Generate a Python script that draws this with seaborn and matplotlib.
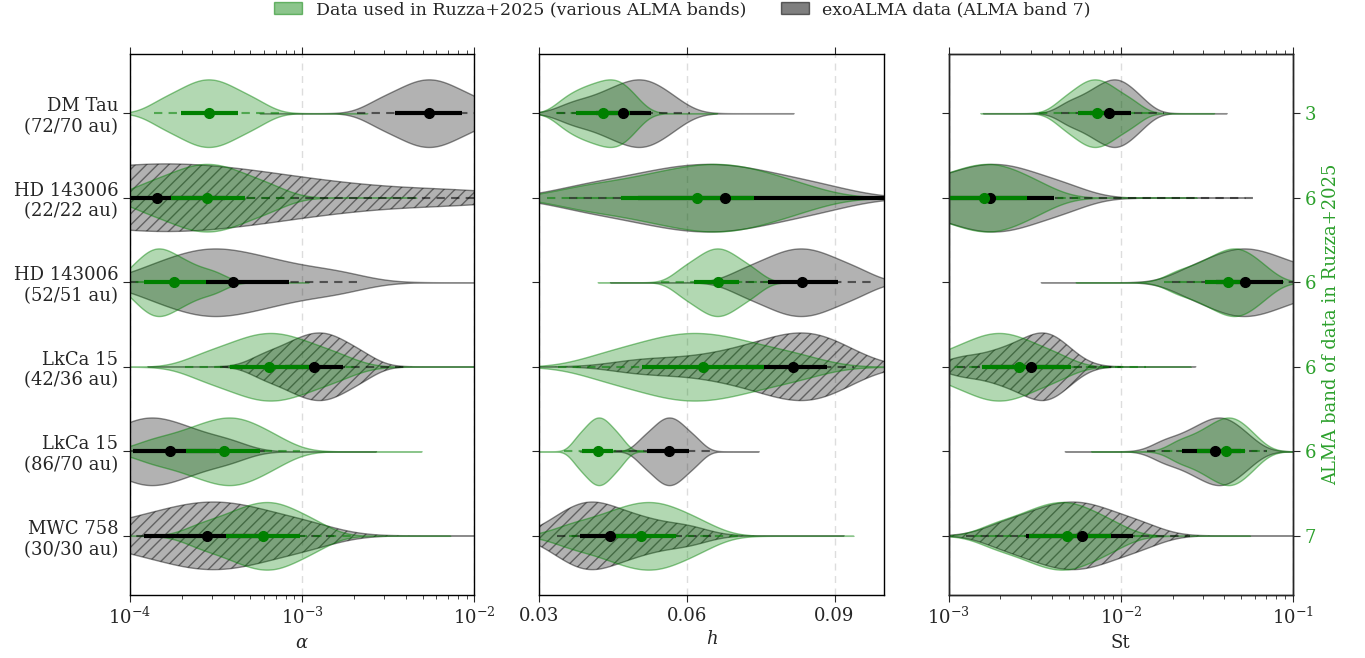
import numpy as np
import pandas as pd
import seaborn as sns
import matplotlib.pyplot as plt
from matplotlib.colors import to_rgba
from matplotlib.patches import Patch

# ---------------- data ----------------
disks = ["DM Tau\n(72/70 au)", "HD 143006\n(22/22 au)", "HD 143006\n(52/51 au)",
         "LkCa 15\n(42/36 au)", "LkCa 15\n(86/70 au)", "MWC 758\n(30/30 au)"]
alma_bands = ["3", "6", "6", "6", "6", "7"]

# posterior samples, log10(alpha)
alpha_ruzza = [
    [-3.817, -3.702, -3.631, -3.572, -3.516, -3.457, -3.386, -3.271],
    [-3.914, -3.761, -3.668, -3.590, -3.516, -3.438, -3.345, -3.193],
    [-3.974, -3.903, -3.859, -3.822, -3.775, -3.712, -3.637, -3.514],
    [-3.569, -3.407, -3.307, -3.224, -3.146, -3.063, -2.963, -2.802],
    [-3.870, -3.696, -3.588, -3.498, -3.425, -3.361, -3.283, -3.157],
    [-3.585, -3.432, -3.339, -3.261, -3.193, -3.129, -3.051, -2.925],
]
alpha_exo = [
    [-2.556, -2.434, -2.358, -2.295, -2.235, -2.172, -2.096, -1.974],
    [-4.87, -4.50, -4.27, -4.10, -3.93, -3.79, -3.64, -3.48, -3.30, -3.07, -2.72, -2.10],
    [-3.880, -3.698, -3.587, -3.494, -3.384, -3.245, -3.078, -2.806],
    [-3.221, -3.091, -3.012, -2.945, -2.887, -2.831, -2.763, -2.653],
    [-4.151, -4.021, -3.942, -3.875, -3.802, -3.712, -3.605, -3.430],
    [-4.067, -3.834, -3.691, -3.572, -3.459, -3.339, -3.196, -2.963],
]
# posterior samples, h
h_ruzza = [
    [0.0347, 0.0372, 0.0390, 0.0407, 0.0422, 0.0437, 0.0449, 0.0462, 0.0475, 0.0495],
    [0.0393, 0.0496, 0.0560, 0.0613, 0.0657, 0.0696, 0.0743, 0.0819],
    [0.0590, 0.0620, 0.0639, 0.0655, 0.0669, 0.0685, 0.0704, 0.0734],
    [0.0437, 0.0515, 0.0562, 0.0602, 0.0641, 0.0685, 0.0736, 0.0820],
    [0.0377, 0.0395, 0.0407, 0.0416, 0.0426, 0.0435, 0.0447, 0.0465],
    [0.0367, 0.0429, 0.0467, 0.0498, 0.0525, 0.0550, 0.0580, 0.0628],
]
h_exo = [
    [0.0369, 0.0421, 0.0453, 0.0479, 0.0500, 0.0518, 0.0539, 0.0573],
    [0.0393, 0.0496, 0.0560, 0.0613, 0.0662, 0.0711, 0.0771, 0.0868],
    [0.0717, 0.0766, 0.0795, 0.0820, 0.0844, 0.0869, 0.0899, 0.0947],
    [0.0490, 0.0563, 0.0632, 0.0681, 0.0715, 0.0743, 0.0771, 0.0790,
     0.0807, 0.0823, 0.0840, 0.0856, 0.0872, 0.0889, 0.0908, 0.0943],
    [0.0510, 0.0533, 0.0547, 0.0558, 0.0570, 0.0581, 0.0595, 0.0618],
    [0.0335, 0.0373, 0.0396, 0.0415, 0.0442, 0.0480, 0.0526, 0.0600],
]
# posterior samples, log10(St)
st_ruzza = [
    [-2.338, -2.257, -2.207, -2.165, -2.124, -2.079, -2.024, -1.936],
    [-3.251, -3.063, -2.948, -2.852, -2.773, -2.702, -2.617, -2.479],
    [-1.666, -1.540, -1.462, -1.398, -1.347, -1.303, -1.252, -1.167],
    [-3.038, -2.899, -2.813, -2.742, -2.674, -2.603, -2.517, -2.378],
    [-1.658, -1.548, -1.480, -1.424, -1.380, -1.343, -1.299, -1.228],
    [-2.727, -2.572, -2.476, -2.397, -2.328, -2.261, -2.182, -2.052],
]
st_exo = [
    [-2.302, -2.199, -2.135, -2.082, -2.039, -2.002, -1.957, -1.884],
    [-3.192, -3.004, -2.889, -2.793, -2.703, -2.610, -2.499, -2.318],
    [-1.608, -1.465, -1.378, -1.305, -1.231, -1.148, -1.048, -0.887],
    [-2.925, -2.743, -2.632, -2.539, -2.476, -2.436, -2.389, -2.311],
    [-1.747, -1.624, -1.548, -1.485, -1.435, -1.394, -1.344, -1.263],
    [-2.680, -2.512, -2.408, -2.322, -2.240, -2.154, -2.051, -1.882],
]

# medians, 1-sigma and 2-sigma intervals
alpha_ruzza_med = [-3.544, -3.553, -3.747, -3.195, -3.453, -3.227]
alpha_ruzza_1s = [(-3.704, -3.375), (-3.76, -3.33), (-3.918, -3.557), (-3.421, -2.958), (-3.673, -3.247), (-3.44, -3.01)]
alpha_ruzza_2s = [(-3.863, -3.127), (-4.0, -3.05), (-4.05, -3.30), (-3.679, -2.70), (-3.90, -3.01), (-3.70, -2.68)]
alpha_exo_med = [-2.265, -3.844, -3.402, -2.93, -3.766, -3.553]
alpha_exo_1s = [(-2.459, -2.071), (-4.55, -3.45), (-3.557, -3.074), (-3.10, -2.765), (-3.98, -3.50), (-3.918, -3.20)]
alpha_exo_2s = [(-2.681, -1.85), (-5.0, -1.8), (-4.0, -2.681), (-3.48, -2.39), (-4.2, -3.2), (-4.3, -2.8)]

h_ruzza_med = [0.0430, 0.0620, 0.0663, 0.0633, 0.0419, 0.0506]
h_ruzza_1s = [(0.0375, 0.0485), (0.0466, 0.0737), (0.0615, 0.0706), (0.0509, 0.0757), (0.0387, 0.0450), (0.0451, 0.0577)]
h_ruzza_2s = [(0.0333, 0.0505), (0.0315, 0.090), (0.0547, 0.0764), (0.0339, 0.088), (0.0350, 0.0513), (0.036, 0.0710)]
h_exo_med = [0.0470, 0.0677, 0.0833, 0.0816, 0.0564, 0.0443]
h_exo_1s = [(0.0415, 0.0528), (0.050, 0.102), (0.0764, 0.0907), (0.072, 0.0885), (0.0519, 0.0605), (0.0382, 0.0505)]
h_exo_2s = [(0.0335, 0.0607), (0.036, 0.12), (0.069, 0.098), (0.052, 0.094), (0.0452, 0.0649), (0.0335, 0.066)]

st_ruzza_med = [-2.141, -2.796, -1.375, -2.592, -1.387, -2.31]
st_ruzza_1s = [(-2.248, -2.086), (-3.05, -2.543), (-1.513, -1.25), (-2.806, -2.291), (-1.56, -1.28), (-2.534, -2.057)]
st_ruzza_2s = [(-2.475, -1.795), (-3.3, -2.2), (-1.75, -1.05), (-3.05, -1.853), (-1.75, -1.15), (-2.85, -1.75)]
st_exo_med = [-2.067, -2.761, -1.276, -2.524, -1.451, -2.228]
st_exo_1s = [(-2.18, -1.94), (-3.1, -2.388), (-1.45, -1.06), (-2.75, -2.33), (-1.645, -1.3), (-2.553, -1.931)]
st_exo_2s = [(-2.35, -1.75), (-3.4, -1.2), (-1.7, -0.9), (-2.95, -2.0), (-1.85, -1.15), (-2.9, -1.6)]

# rows whose exoALMA violin is hatched
alpha_hatched = [1, 3, 5]
h_hatched = [3, 5]
st_hatched = [3, 5]

# ---------------- style ----------------
sns.set_style("ticks")
plt.rcParams.update({
    "font.family": ["DejaVu Serif"],
    "mathtext.fontset": "dejavuserif",
    "font.size": 13,
    "axes.linewidth": 1.0,
    "xtick.direction": "out",
    "ytick.direction": "out",
    "hatch.linewidth": 1.0,
})

GREEN = "green"
GRAY = "black"

fig, axes = plt.subplots(1, 3, figsize=(13.65, 6.58), dpi=100)
fig.subplots_adjust(left=130 / 1365, right=1293 / 1365, bottom=1 - 595 / 658,
                    top=1 - 54 / 658, wspace=65 / 345)


def draw_violin(ax, samples, row, color, log, hatch):
    vals = 10.0 ** np.asarray(samples) if log else np.asarray(samples, dtype=float)
    df = pd.DataFrame({"value": vals, "row": np.full(len(vals), row)})
    n0 = len(ax.collections)
    sns.violinplot(data=df, x="value", y="row", orient="h", native_scale=True,
                   log_scale=(True, False) if log else None, inner=None,
                   density_norm="width", width=0.8, cut=7, bw_adjust=0.8,
                   gridsize=400, color=color, linewidth=1.0, ax=ax)
    for coll in ax.collections[n0:]:
        coll.set_facecolor(to_rgba(color, 0.3))
        coll.set_edgecolor(to_rgba(color, 0.45))
        coll.set_zorder(2)
        if hatch:
            coll.set_hatch("///")


def draw_stats(ax, med, s1, s2, color, log, zbase):
    conv = (lambda v: 10.0 ** np.asarray(v)) if log else (lambda v: np.asarray(v))
    for i in range(len(med)):
        ax.plot(conv(s2[i]), [i, i], ls=(0, (4, 3)), color=color, alpha=0.55, lw=1.5,
                zorder=3)
        ax.plot(conv(s1[i]), [i, i], color=color, lw=3, solid_capstyle="butt",
                zorder=zbase)
        ax.plot(conv([med[i]]), [i], "o", color=color, ms=7, zorder=zbase + 2)


panels = [
    dict(r=alpha_ruzza, e=alpha_exo, rm=alpha_ruzza_med, r1=alpha_ruzza_1s, r2=alpha_ruzza_2s,
         em=alpha_exo_med, e1=alpha_exo_1s, e2=alpha_exo_2s, log=True, xlim=(1e-4, 1e-2),
         xlabel=r"$\alpha$", hatched=alpha_hatched),
    dict(r=h_ruzza, e=h_exo, rm=h_ruzza_med, r1=h_ruzza_1s, r2=h_ruzza_2s,
         em=h_exo_med, e1=h_exo_1s, e2=h_exo_2s, log=False, xlim=(0.03, 0.10),
         xlabel=r"$h$", hatched=h_hatched),
    dict(r=st_ruzza, e=st_exo, rm=st_ruzza_med, r1=st_ruzza_1s, r2=st_ruzza_2s,
         em=st_exo_med, e1=st_exo_1s, e2=st_exo_2s, log=True, xlim=(1e-3, 1e-1),
         xlabel="St", hatched=st_hatched),
]

for k, (ax, p) in enumerate(zip(axes, panels)):
    for i in range(len(disks)):
        draw_violin(ax, p["e"][i], i, GRAY, p["log"], i in p["hatched"])
    for i in range(len(disks)):
        draw_violin(ax, p["r"][i], i, GREEN, p["log"], False)
    draw_stats(ax, p["em"], p["e1"], p["e2"], GRAY, p["log"], 4)
    draw_stats(ax, p["rm"], p["r1"], p["r2"], GREEN, p["log"], 4.5)

    ax.set_xlim(*p["xlim"])
    ax.set_ylim(5.7, -0.7)
    ax.set_yticks(range(len(disks)))
    if k == 0:
        ax.set_yticklabels(disks, fontsize=13)
    else:
        ax.set_yticklabels([])
    if not p["log"]:
        ax.set_xticks([0.03, 0.06, 0.09])
        ax.set_xticklabels(["0.03", "0.06", "0.09"])
    ax.set_xlabel(p["xlabel"], fontsize=13)
    ax.set_ylabel("")
    ax.grid(True, axis="x", which="major", color="#dddddd", ls=(0, (5, 4)), lw=1.0)
    ax.set_axisbelow(True)
    ax.tick_params(axis="x", which="both", top=True, bottom=True, labelsize=13)
    ax.tick_params(axis="x", which="major", length=5)
    ax.tick_params(axis="x", which="minor", length=3)
    ax.tick_params(axis="y", which="both", left=True, right=False, length=5, labelsize=13)
    for s in ax.spines.values():
        s.set_visible(True)
        s.set_color("black")

ax2 = axes[2].twinx()
ax2.set_ylim(5.7, -0.7)
ax2.set_yticks(range(len(alma_bands)))
ax2.set_yticklabels(alma_bands, color="tab:green", fontsize=13)
ax2.tick_params(axis="y", length=5)
ax2.set_ylabel("ALMA band of data in Ruzza+2025", color="tab:green", fontsize=13)

handles = [Patch(facecolor=to_rgba(GREEN, 0.45), edgecolor=to_rgba(GREEN, 0.5)),
           Patch(facecolor=to_rgba(GRAY, 0.5), edgecolor=to_rgba(GRAY, 0.55))]
fig.legend(handles, ["Data used in Ruzza+2025 (various ALMA bands)",
                     "exoALMA data (ALMA band 7)"],
           loc="upper center", bbox_to_anchor=(0.5, 1.022), ncol=2, frameon=False,
           fontsize=12.5, handlelength=1.6, columnspacing=2.0)

fig.savefig("out.png", dpi=100)
